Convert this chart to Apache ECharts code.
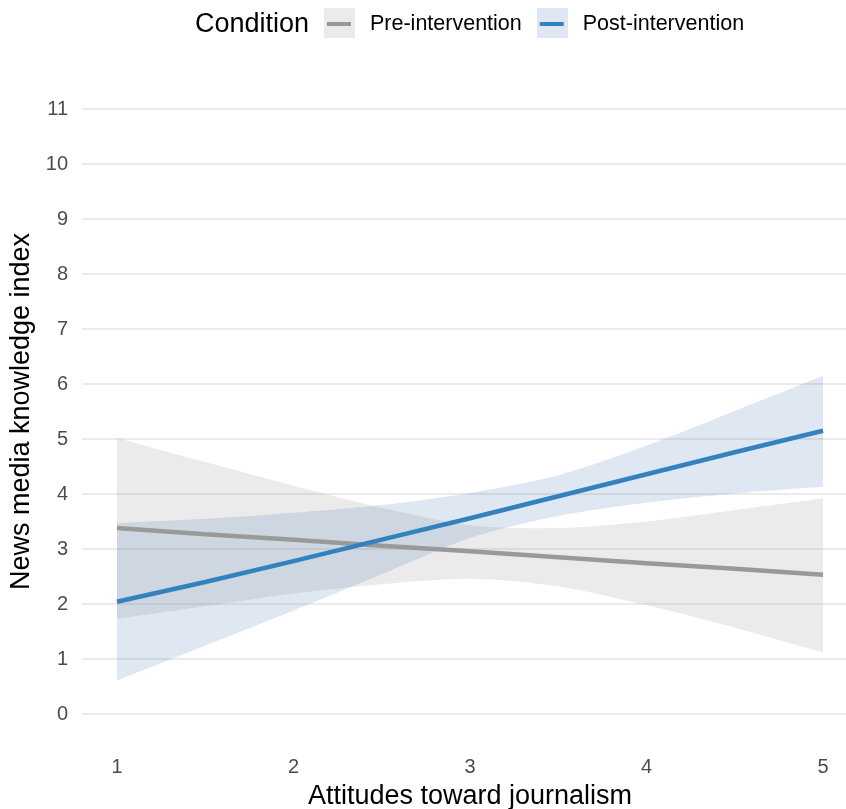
<!DOCTYPE html>
<html>
<head>
<meta charset="utf-8">
<script src="https://cdn.jsdelivr.net/npm/echarts@6/dist/echarts.min.js"></script>
<style>
  html, body { margin: 0; padding: 0; background: #fff; }
  #chart { width: 846px; height: 809px; }
</style>
</head>
<body>
<div id="chart"></div>
<script>
// Attitudes toward journalism vs news media knowledge, fitted lines with 95% bands
const xs = [1, 1.5, 2, 2.5, 3, 3.5, 4, 4.5, 5];
const xTicks = [1, 2, 3, 4, 5];
const yTicks = [0, 1, 2, 3, 4, 5, 6, 7, 8, 9, 10, 11];

const preFit = [3.38, 3.27, 3.17, 3.06, 2.96, 2.85, 2.74, 2.64, 2.53];
const preLower = [1.73, 1.96, 2.19, 2.36, 2.46, 2.32, 1.98, 1.57, 1.12];
const preUpper = [5.02, 4.58, 4.15, 3.75, 3.43, 3.38, 3.50, 3.71, 3.92];

const postFit = [2.04, 2.40, 2.78, 3.17, 3.56, 3.96, 4.36, 4.76, 5.15];
const postLower = [0.61, 1.24, 1.88, 2.54, 3.20, 3.60, 3.84, 4.01, 4.13];
const postUpper = [3.47, 3.55, 3.66, 3.80, 4.02, 4.34, 4.88, 5.51, 6.15];

const FONT = "Liberation Sans";
const preColor = "#999999";
const postColor = "#3182bd";
const preFill = "rgba(153, 153, 153, 0.2)";
const postFill = "rgba(42, 100, 170, 0.15)";

const pairs = (vals) => xs.map((x, i) => [x, vals[i]]);

// ribbon as one polygon: upper edge left->right, lower edge right->left
// corner points doubled so the smoothing keeps the ends square
const bandSeries = (name, lower, upper, fill) => ({
  name,
  type: "custom",
  xAxisIndex: 1,
  yAxisIndex: 1,
  silent: true,
  data: [[xs[0], lower[0]]],
  renderItem: (params, api) => {
    const top = xs.map((x, i) => api.coord([x, upper[i]]));
    const bot = xs.map((x, i) => api.coord([x, lower[i]])).reverse();
    const n = top.length;
    const points = [top[0], ...top, top[n - 1], bot[0], ...bot, bot[n - 1]];
    return {
      type: "polygon",
      shape: { points, smooth: 0.3 },
      style: { fill, stroke: null },
    };
  },
});

const chart = echarts.init(document.getElementById("chart"));

const option = {
  backgroundColor: "#fff",
  animation: false,
  textStyle: { fontFamily: FONT },
  grid: [
    { left: 82, right: 0, top: 109, bottom: 95, outerBoundsMode: "none" },
    { left: 117, right: 23, top: 109, bottom: 95, outerBoundsMode: "none" },
  ],
  xAxis: [
    { gridIndex: 0, type: "value", min: 0, max: 1, show: false },
    {
      gridIndex: 1,
      type: "value",
      min: 1,
      max: 5,
      interval: 1,
      name: "Attitudes toward journalism",
      nameLocation: "middle",
      nameGap: 69,
      nameTextStyle: { fontSize: 27, color: "#000", fontFamily: FONT },
      axisLine: { show: false },
      axisTick: { show: false },
      splitLine: { show: false },
      axisLabel: {
        margin: 43,
        fontSize: 20,
        color: "#4d4d4d",
        formatter: (v) => (xTicks.includes(v) ? String(v) : ""),
      },
    },
  ],
  yAxis: [
    {
      gridIndex: 0,
      type: "value",
      min: 0,
      max: 11,
      interval: 1,
      name: "News media knowledge index",
      nameLocation: "middle",
      nameGap: 35,
      nameTextStyle: { fontSize: 27, color: "#000", fontFamily: FONT },
      axisLine: { show: false },
      axisTick: { show: false },
      axisLabel: {
        margin: 14,
        fontSize: 20,
        color: "#4d4d4d",
        formatter: (v) => (yTicks.includes(v) ? String(v) : ""),
      },
      splitLine: { lineStyle: { color: "#ebebeb", width: 2 } },
    },
    { gridIndex: 1, type: "value", min: 0, max: 11, show: false },
  ],
  legend: {
    data: ["Pre-intervention", "Post-intervention"],
    left: 327,
    top: 13,
    padding: 0,
    icon: "rect",
    itemWidth: 24,
    itemHeight: 4,
    itemGap: 18,
    selectedMode: false,
    textStyle: {
      fontSize: 21.5,
      color: "#000",
      fontFamily: FONT,
      padding: [0, 0, 0, 14],
    },
  },
  graphic: [
    {
      type: "text",
      left: 195,
      top: 11,
      style: { text: "Condition", fontSize: 27, fill: "#000", fontFamily: FONT },
    },
    {
      type: "rect",
      left: 324,
      top: 8,
      z: -1,
      shape: { width: 31, height: 30 },
      style: { fill: "#ebebeb" },
    },
    {
      type: "rect",
      left: 537,
      top: 8,
      z: -1,
      shape: { width: 31, height: 30 },
      style: { fill: "#dfe8f2" },
    },
  ],
  series: [
    bandSeries("preBand", preLower, preUpper, preFill),
    {
      name: "Pre-intervention",
      type: "line",
      xAxisIndex: 1,
      yAxisIndex: 1,
      showSymbol: false,
      color: preColor,
      lineStyle: { color: preColor, width: 4.5 },
      data: pairs(preFit),
    },
    bandSeries("postBand", postLower, postUpper, postFill),
    {
      name: "Post-intervention",
      type: "line",
      xAxisIndex: 1,
      yAxisIndex: 1,
      showSymbol: false,
      color: postColor,
      lineStyle: { color: postColor, width: 4.5 },
      data: pairs(postFit),
    },
  ],
};

chart.setOption(option);
window.addEventListener("resize", () => chart.resize());
</script>
</body>
</html>
